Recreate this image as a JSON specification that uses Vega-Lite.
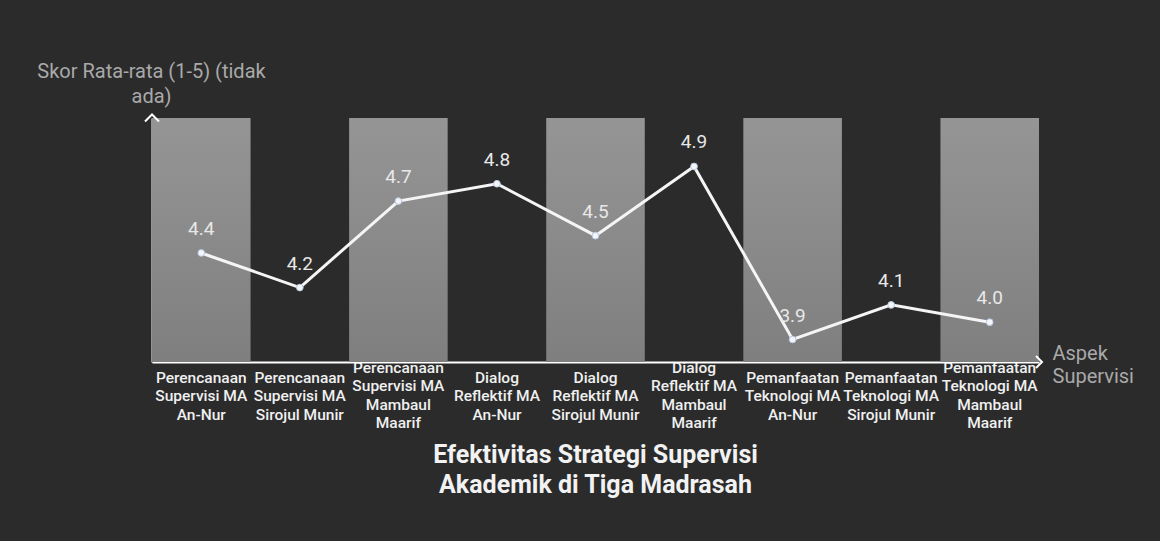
{
  "$schema": "https://vega.github.io/schema/vega-lite/v6.json",
  "width": 887,
  "height": 244,
  "autosize": {"type": "none"},
  "padding": {"left": 152, "top": 118, "right": 121, "bottom": 179},
  "background": "#2b2b2b",
  "config": {"view": {"stroke": null}, "font": "Roboto"},
  "title": {
    "text": ["Efektivitas Strategi Supervisi", "Akademik di Tiga Madrasah"],
    "orient": "bottom",
    "anchor": "middle",
    "fontSize": 25,
    "fontWeight": "bold",
    "font": "Roboto",
    "color": "#f2f2f2",
    "lineHeight": 30,
    "offset": 12
  },
  "data": {
    "values": [
      {"aspek": "Perencanaan Supervisi MA An-Nur", "skor": 4.4},
      {"aspek": "Perencanaan Supervisi MA Sirojul Munir", "skor": 4.2},
      {"aspek": "Perencanaan Supervisi MA Mambaul Maarif", "skor": 4.7},
      {"aspek": "Dialog Reflektif MA An-Nur", "skor": 4.8},
      {"aspek": "Dialog Reflektif MA Sirojul Munir", "skor": 4.5},
      {"aspek": "Dialog Reflektif MA Mambaul Maarif", "skor": 4.9},
      {"aspek": "Pemanfaatan Teknologi MA An-Nur", "skor": 3.9},
      {"aspek": "Pemanfaatan Teknologi MA Sirojul Munir", "skor": 4.1},
      {"aspek": "Pemanfaatan Teknologi MA Mambaul Maarif", "skor": 4.0}
    ]
  },
  "encoding": {
    "x": {
      "field": "aspek",
      "type": "nominal",
      "sort": null,
      "scale": {
        "paddingInner": 0,
        "paddingOuter": 0,
        "domain": [
          "Perencanaan Supervisi MA An-Nur",
          "Perencanaan Supervisi MA Sirojul Munir",
          "Perencanaan Supervisi MA Mambaul Maarif",
          "Dialog Reflektif MA An-Nur",
          "Dialog Reflektif MA Sirojul Munir",
          "Dialog Reflektif MA Mambaul Maarif",
          "Pemanfaatan Teknologi MA An-Nur",
          "Pemanfaatan Teknologi MA Sirojul Munir",
          "Pemanfaatan Teknologi MA Mambaul Maarif"
        ]
      },
      "axis": {
        "title": ["Aspek", "Supervisi"],
        "titleX": 900,
        "titleY": -9,
        "titleAlign": "left",
        "titleAnchor": null,
        "titleBaseline": "middle",
        "titleColor": "#a9a9a9",
        "titleFontSize": 20,
        "titleFontWeight": "normal",
        "titleFont": "Roboto",
        "titleLineHeight": 23,
        "labelAngle": 0,
        "labelExpr": "split(replace(replace(replace(datum.label, ' MA ', ' MA|'), 'Mambaul ', 'Mambaul|'), ' ', '|'), '|')",
        "labelColor": "#f0f0f0",
        "labelFont": "Roboto",
        "labelFontSize": 15.5,
        "labelFontWeight": 500,
        "labelLineHeight": 18.5,
        "labelBaseline": "middle",
        "labelAlign": "center",
        "labelPadding": {"condition": {"test": "indexof(datum.value, 'Mambaul') >= 0", "value": 5}, "value": 15},
        "ticks": false,
        "domainColor": "#ffffff",
        "domainWidth": 2
      }
    }
  },
  "layer": [
    {
      "transform": [
        {"window": [{"op": "row_number", "as": "idx"}]},
        {"filter": "datum.idx % 2 == 1"}
      ],
      "mark": {
        "type": "bar",
        "color": {
          "gradient": "linear",
          "x1": 0, "y1": 0, "x2": 0, "y2": 1,
          "stops": [
            {"offset": 0, "color": "#959595"},
            {"offset": 1, "color": "#7f7f7f"}
          ]
        }
      },
      "encoding": {
        "y": {"datum": 5.18, "type": "quantitative", "scale": {"domain": [3.77, 5.18], "nice": false, "zero": false}},
        "y2": {"datum": 3.77}
      }
    },
    {
      "mark": {"type": "line", "color": "#f5f5f5", "strokeWidth": 3},
      "encoding": {
        "y": {
          "field": "skor",
          "type": "quantitative",
          "scale": {"domain": [3.77, 5.18], "nice": false, "zero": false},
          "axis": {
            "title": ["Skor Rata-rata (1-5) (tidak", "ada)"],
            "titleAngle": 0,
            "titleAlign": "center",
            "titleAnchor": null,
            "titleBaseline": "middle",
            "titleX": -1,
            "titleY": -46.5,
            "titleColor": "#a9a9a9",
            "titleFontSize": 20,
            "titleFontWeight": "normal",
            "titleFont": "Roboto",
            "titleLineHeight": 24.5,
            "labels": false,
            "ticks": false,
            "grid": false,
            "domainColor": "#ffffff",
            "domainWidth": 2
          }
        }
      }
    },
    {
      "mark": {"type": "point", "filled": true, "fill": "#f4f6fb", "stroke": "#b9c8e0", "strokeWidth": 1, "size": 45, "opacity": 1},
      "encoding": {
        "y": {"field": "skor", "type": "quantitative", "scale": {"domain": [3.77, 5.18], "nice": false, "zero": false}}
      }
    },
    {
      "mark": {"type": "text", "dy": -24, "fontSize": 19, "color": "#e8e8e8", "font": "Roboto", "baseline": "middle", "align": "center"},
      "encoding": {
        "y": {"field": "skor", "type": "quantitative", "scale": {"domain": [3.77, 5.18], "nice": false, "zero": false}},
        "text": {"field": "skor", "type": "quantitative", "format": ".1f"}
      }
    },
    {
      "data": {"values": [{"a": 1}]},
      "mark": {"type": "point", "shape": "M-1,0.5L0,-0.5L1,0.5", "filled": false, "stroke": "#ffffff", "strokeWidth": 2, "size": 196, "opacity": 1},
      "encoding": {
        "x": {"datum": "Perencanaan Supervisi MA An-Nur", "type": "nominal", "bandPosition": 0},
        "y": {"datum": 5.18, "type": "quantitative", "scale": {"domain": [3.77, 5.18], "nice": false, "zero": false}}
      }
    },
    {
      "data": {"values": [{"a": 1}]},
      "mark": {"type": "point", "shape": "M-0.5,-1L0.5,0L-0.5,1", "filled": false, "stroke": "#ffffff", "strokeWidth": 2, "size": 144, "opacity": 1},
      "encoding": {
        "x": {"datum": "Pemanfaatan Teknologi MA Mambaul Maarif", "type": "nominal", "bandPosition": 1},
        "y": {"datum": 3.77, "type": "quantitative", "scale": {"domain": [3.77, 5.18], "nice": false, "zero": false}}
      }
    }
  ]
}
